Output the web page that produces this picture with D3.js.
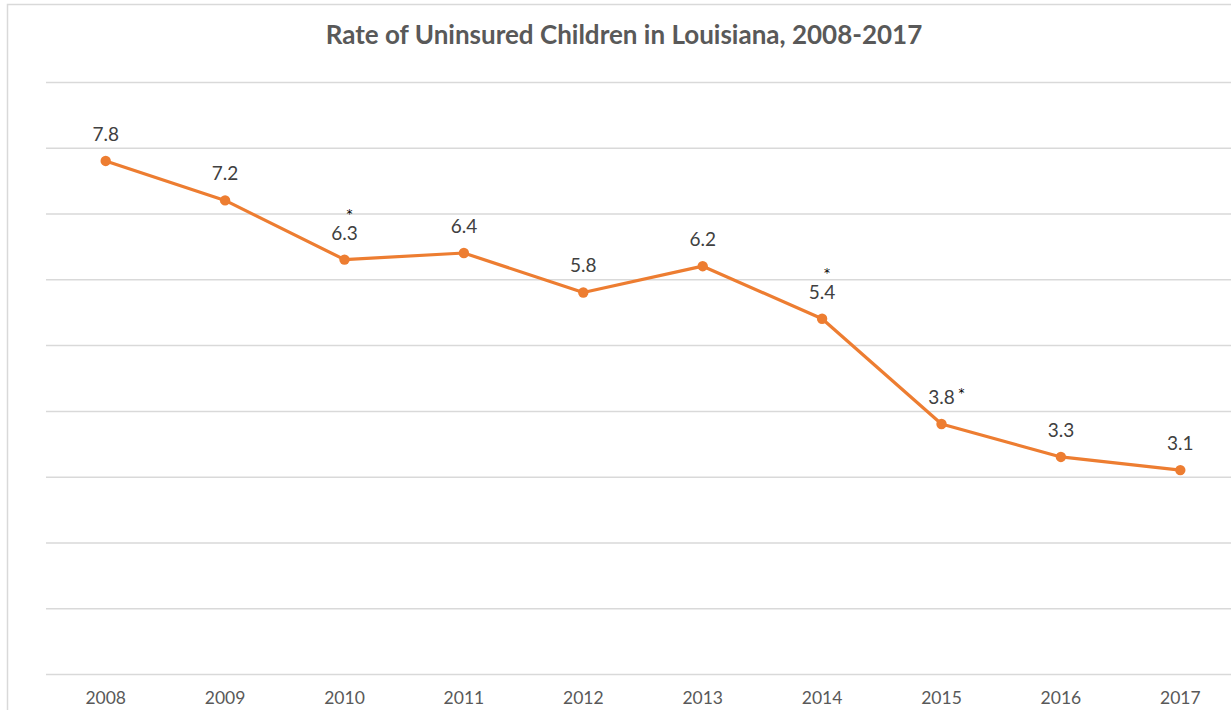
<!DOCTYPE html>
<html>
<head>
<meta charset="utf-8">
<script src="https://cdn.jsdelivr.net/npm/d3@7"></script>
<style>
  html, body { margin: 0; padding: 0; background: #fff; }
  svg { display: block; }
</style>
</head>
<body>
<svg id="chart" width="1231" height="710"></svg>
<script>
const title = "Rate of Uninsured Children in Louisiana, 2008-2017";
const years = ["2008","2009","2010","2011","2012","2013","2014","2015","2016","2017"];
const rates = [7.8, 7.2, 6.3, 6.4, 5.8, 6.2, 5.4, 3.8, 3.3, 3.1];
const significant = [false, false, true, false, false, false, true, true, false, false];
const yTicks = [0,1,2,3,4,5,6,7,8,9];

const svg = d3.select("#chart");
const W = 1231, H = 710;
const m = { left: 46, right: -9, top: 82, bottom: 36 };

// outer chart border
svg.append("rect")
  .attr("x", 7.5).attr("y", 4.5)
  .attr("width", W + 20).attr("height", H + 20)
  .attr("fill", "none").attr("stroke", "#d9d9d9").attr("stroke-width", 1.5);

const x = d3.scaleBand().domain(years).range([m.left, W - m.right]).padding(0);
const y = d3.scaleLinear().domain([0, 9]).range([H - m.bottom, m.top]);

// gridlines
const grid = svg.append("g")
  .attr("transform", `translate(${m.left},0)`)
  .call(d3.axisLeft(y).tickValues(yTicks).tickSize(-(W - m.right - m.left)).tickFormat(""));
grid.select(".domain").remove();
grid.selectAll(".tick line").attr("stroke", "#d9d9d9").attr("stroke-width", 1.5);

// x axis labels
const xa = svg.append("g")
  .attr("transform", `translate(0,${H - m.bottom})`)
  .call(d3.axisBottom(x).tickSize(0).tickPadding(18));
xa.select(".domain").remove();
xa.selectAll("text")
  .attr("font-family", "Lato, 'Open Sans', sans-serif")
  .attr("font-size", 17.5)
  .attr("fill", "#595959");

// title
svg.append("text")
  .attr("x", 624).attr("y", 44)
  .attr("text-anchor", "middle")
  .attr("font-family", "Lato, 'Open Sans', sans-serif")
  .attr("font-weight", "bold")
  .attr("font-size", 26)
  .attr("fill", "#595959")
  .text(title);

const data = years.map((yr, i) => ({ yr, v: rates[i], sig: significant[i] }));
const cx = d => x(d.yr) + x.bandwidth() / 2;

svg.append("path")
  .datum(data)
  .attr("fill", "none")
  .attr("stroke", "#ED7D31")
  .attr("stroke-width", 3.2)
  .attr("stroke-linejoin", "round")
  .attr("d", d3.line().x(cx).y(d => y(d.v)));

svg.selectAll("circle.pt")
  .data(data).join("circle")
  .attr("class", "pt")
  .attr("cx", cx).attr("cy", d => y(d.v))
  .attr("r", 5.2)
  .attr("fill", "#ED7D31");

svg.selectAll("text.lbl")
  .data(data).join("text")
  .attr("class", "lbl")
  .attr("x", cx).attr("y", d => y(d.v) - 20)
  .attr("text-anchor", "middle")
  .attr("font-family", "Lato, 'Open Sans', sans-serif")
  .attr("font-size", 19)
  .attr("fill", "#404040")
  .text(d => d.v.toFixed(1));

// significance asterisks
svg.selectAll("text.ast")
  .data(data.filter(d => d.sig)).join("text")
  .attr("class", "ast")
  .attr("x", d => d.yr === "2015" ? cx(d) + 20 : cx(d) + 5)
  .attr("y", d => d.yr === "2015" ? y(d.v) - 27 : y(d.v) - 42)
  .attr("text-anchor", "middle")
  .attr("font-family", "'DejaVu Sans', sans-serif")
  .attr("font-size", 12)
  .attr("fill", "#000")
  .text("*");
</script>
</body>
</html>
